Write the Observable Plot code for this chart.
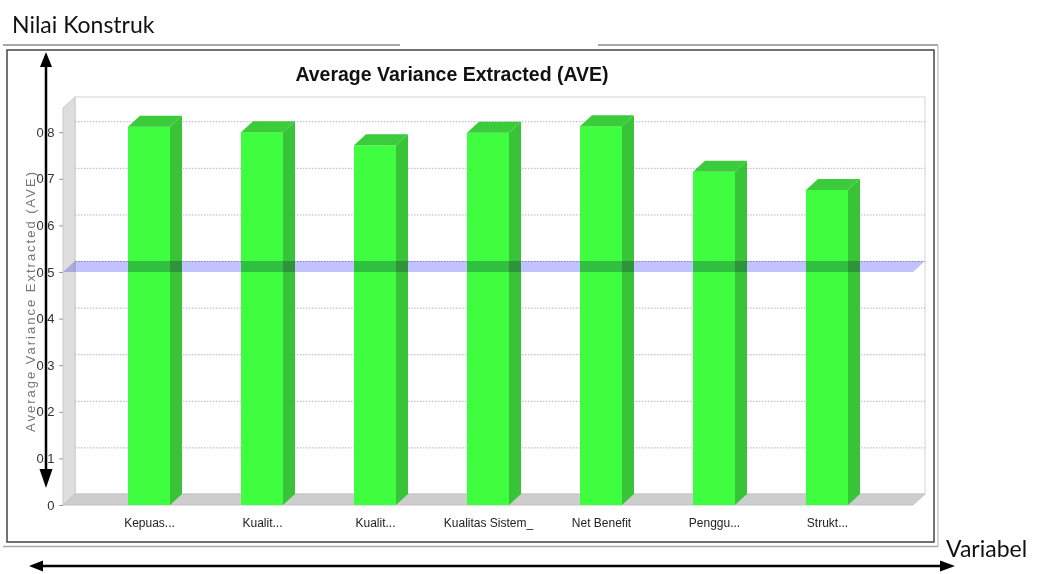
<!DOCTYPE html>
<html><head><meta charset="utf-8">
<script src="https://cdn.jsdelivr.net/npm/d3@7"></script>
<script src="https://cdn.jsdelivr.net/npm/@observablehq/plot@0.6"></script>
<style>
body{margin:0;background:#fff;}
#wrap{position:relative;width:1037px;height:574px;overflow:hidden;background:#fff;}
#wrap > svg{position:absolute;left:0;top:0;}
.ylab text{letter-spacing:2px;}
</style></head><body>
<div id="wrap"></div>
<script>
// ---- data ----
const tickLabels = ["Kepuas...", "Kualit...", "Kualit...", "Kualitas Sistem_", "Net Benefit", "Penggu...", "Strukt..."];
const aveValues = [0.812, 0.800, 0.772, 0.799, 0.813, 0.715, 0.676];
const yTicks = [0, 0.1, 0.2, 0.3, 0.4, 0.5, 0.6, 0.7, 0.8];
const threshold = [0.5];
const chartTitle = "Average Variance Extracted (AVE)";
const yTitle = "Average Variance Extracted (AVE)";
const outerY = "Nilai Konstruk";
const outerX = "Variabel";

const data = tickLabels.map((l, i) => ({key: i, label: l, value: aveValues[i]}));

const DX = 12, DY = -11;
const FRONT = "#3ffd3f", SIDE = "#39c339", TOP = "#3bcb3b";
const NARROW = "'Liberation Sans Narrow','Liberation Sans',Arial,sans-serif";

function bw(x) { return typeof x.bandwidth === "function" ? x.bandwidth() : x.bandwidth; }

function walls(index, scales, values, dim) {
  const {y} = scales;
  const x0 = dim.marginLeft, x1 = dim.width - dim.marginRight;
  const y0 = y(0), yT = dim.marginTop;
  const g = d3.create("svg:g");
  g.append("rect").attr("x", x0 + DX).attr("y", yT + DY).attr("width", x1 - x0).attr("height", y0 - yT)
    .attr("fill", "#fff").attr("stroke", "#d4d4d4");
  g.append("path").attr("d", `M${x0},${y0}L${x0},${yT}L${x0 + DX},${yT + DY}L${x0 + DX},${y0 + DY}Z`)
    .attr("fill", "#dedede").attr("stroke", "#cacaca");
  g.append("path").attr("d", `M${x0},${y0}L${x1},${y0}L${x1 + DX},${y0 + DY}L${x0 + DX},${y0 + DY}Z`)
    .attr("fill", "#cdcdcd").attr("stroke", "#c4c4c4");
  return g.node();
}

function bars3d(index, scales, values, dim) {
  const {x, y} = scales;
  const w = bw(x);
  const g = d3.create("svg:g");
  for (const d of data) {
    const xl = x(d.key), xr = xl + w, yv = y(d.value), y0 = y(0);
    g.append("path").attr("d", `M${xr},${yv}L${xr + DX},${yv + DY}L${xr + DX},${y0 + DY}L${xr},${y0}Z`).attr("fill", SIDE);
    g.append("path").attr("d", `M${xl},${yv}L${xl + DX},${yv + DY}L${xr + DX},${yv + DY}L${xr},${yv}Z`).attr("fill", TOP);
  }
  return g.node();
}

function marker(index, scales, values, dim) {
  const {y} = scales;
  const x0 = dim.marginLeft, x1 = dim.width - dim.marginRight;
  const g = d3.create("svg:g").style("mix-blend-mode", "multiply");
  for (const t of threshold) {
    const yv = y(t);
    g.append("path").attr("d", `M${x0},${yv}L${x1},${yv}L${x1 + DX},${yv + DY}L${x0 + DX},${yv + DY}Z`)
      .attr("fill", "#c2c2ff");
  }
  return g.node();
}

const chart = Plot.plot({
  width: 1037, height: 574,
  marginLeft: 63, marginRight: 124, marginTop: 108, marginBottom: 69,
  style: {fontFamily: NARROW, fontSize: "12px", color: "#333", background: "transparent", overflow: "visible"},
  x: {type: "band", domain: data.map(d => d.key), paddingInner: 0.629, paddingOuter: 0.572},
  y: {domain: [0, 0.852]},
  marks: [
    walls,
    Plot.ruleY(yTicks.filter(v => v > 0), {dx: DX, dy: DY, stroke: "#b0b0c8", strokeDasharray: "1.5,1.5"}),
    Plot.barY(data, {x: "key", y: "value", fill: FRONT}),
    bars3d,
    marker,
    Plot.axisY({ticks: yTicks, tickFormat: v => v === 0 ? "0" : d3.format(".1f")(v), tickSize: 4, tickPadding: 5,
      stroke: "#999", fill: "#333", fontSize: 13, label: null}),
    Plot.axisX({tickSize: 0, tickPadding: 13, tickFormat: i => tickLabels[i], fontSize: 12, fill: "#222", label: null}),
    Plot.text([yTitle], {frameAnchor: "left", textAnchor: "middle", rotate: -90, dx: -33, dy: -6, fill: "#777", fontSize: 13,
      fontFamily: "'Liberation Sans',Arial,sans-serif", className: "ylab"})
  ]
});

const wrap = document.getElementById("wrap");
wrap.appendChild(chart);

// ---- annotation overlay (frame, arrows, titles) ----
const ov = d3.select(wrap).append("svg").attr("width", 1037).attr("height", 574).style("pointer-events", "none");
ov.append("text").attr("x", 12).attr("y", 33).text(outerY)
  .attr("font-family", "Lato,'Open Sans',sans-serif").attr("font-size", 23).attr("fill", "#111");
ov.append("line").attr("x1", 3).attr("x2", 400).attr("y1", 45).attr("y2", 45).attr("stroke", "#a8a8a8").attr("stroke-width", 2);
ov.append("line").attr("x1", 598).attr("x2", 938).attr("y1", 45).attr("y2", 45).attr("stroke", "#a8a8a8").attr("stroke-width", 2);
ov.append("rect").attr("x", 7).attr("y", 50).attr("width", 927).attr("height", 492)
  .attr("fill", "none").attr("stroke", "#444").attr("stroke-width", 1.5);
ov.append("line").attr("x1", 3).attr("x2", 938).attr("y1", 546.5).attr("y2", 546.5).attr("stroke", "#aaa").attr("stroke-width", 1.5);
ov.append("line").attr("x1", 938).attr("x2", 938).attr("y1", 45).attr("y2", 547).attr("stroke", "#bbb").attr("stroke-width", 1.2);
ov.append("text").attr("x", 452).attr("y", 81).attr("text-anchor", "middle").text(chartTitle)
  .attr("font-family", NARROW).attr("font-weight", "bold").attr("font-size", 19.5).attr("fill", "#111");
// vertical double arrow
ov.append("line").attr("x1", 46).attr("x2", 46).attr("y1", 62).attr("y2", 474).attr("stroke", "#000").attr("stroke-width", 2.5);
ov.append("path").attr("d", "M46,52L40,67L52,67Z").attr("fill", "#000");
ov.append("path").attr("d", "M46,488L39.5,469L52.5,469Z").attr("fill", "#000");
// horizontal double arrow
ov.append("line").attr("x1", 40).attr("x2", 942).attr("y1", 566).attr("y2", 566).attr("stroke", "#000").attr("stroke-width", 2.5);
ov.append("path").attr("d", "M29,566L43,560.5L43,571.5Z").attr("fill", "#000");
ov.append("path").attr("d", "M955,566L940,560.5L940,571.5Z").attr("fill", "#000");
ov.append("text").attr("x", 946).attr("y", 557).text(outerX)
  .attr("font-family", "Lato,'Open Sans',sans-serif").attr("font-size", 23).attr("fill", "#111");
</script>
</body></html>
